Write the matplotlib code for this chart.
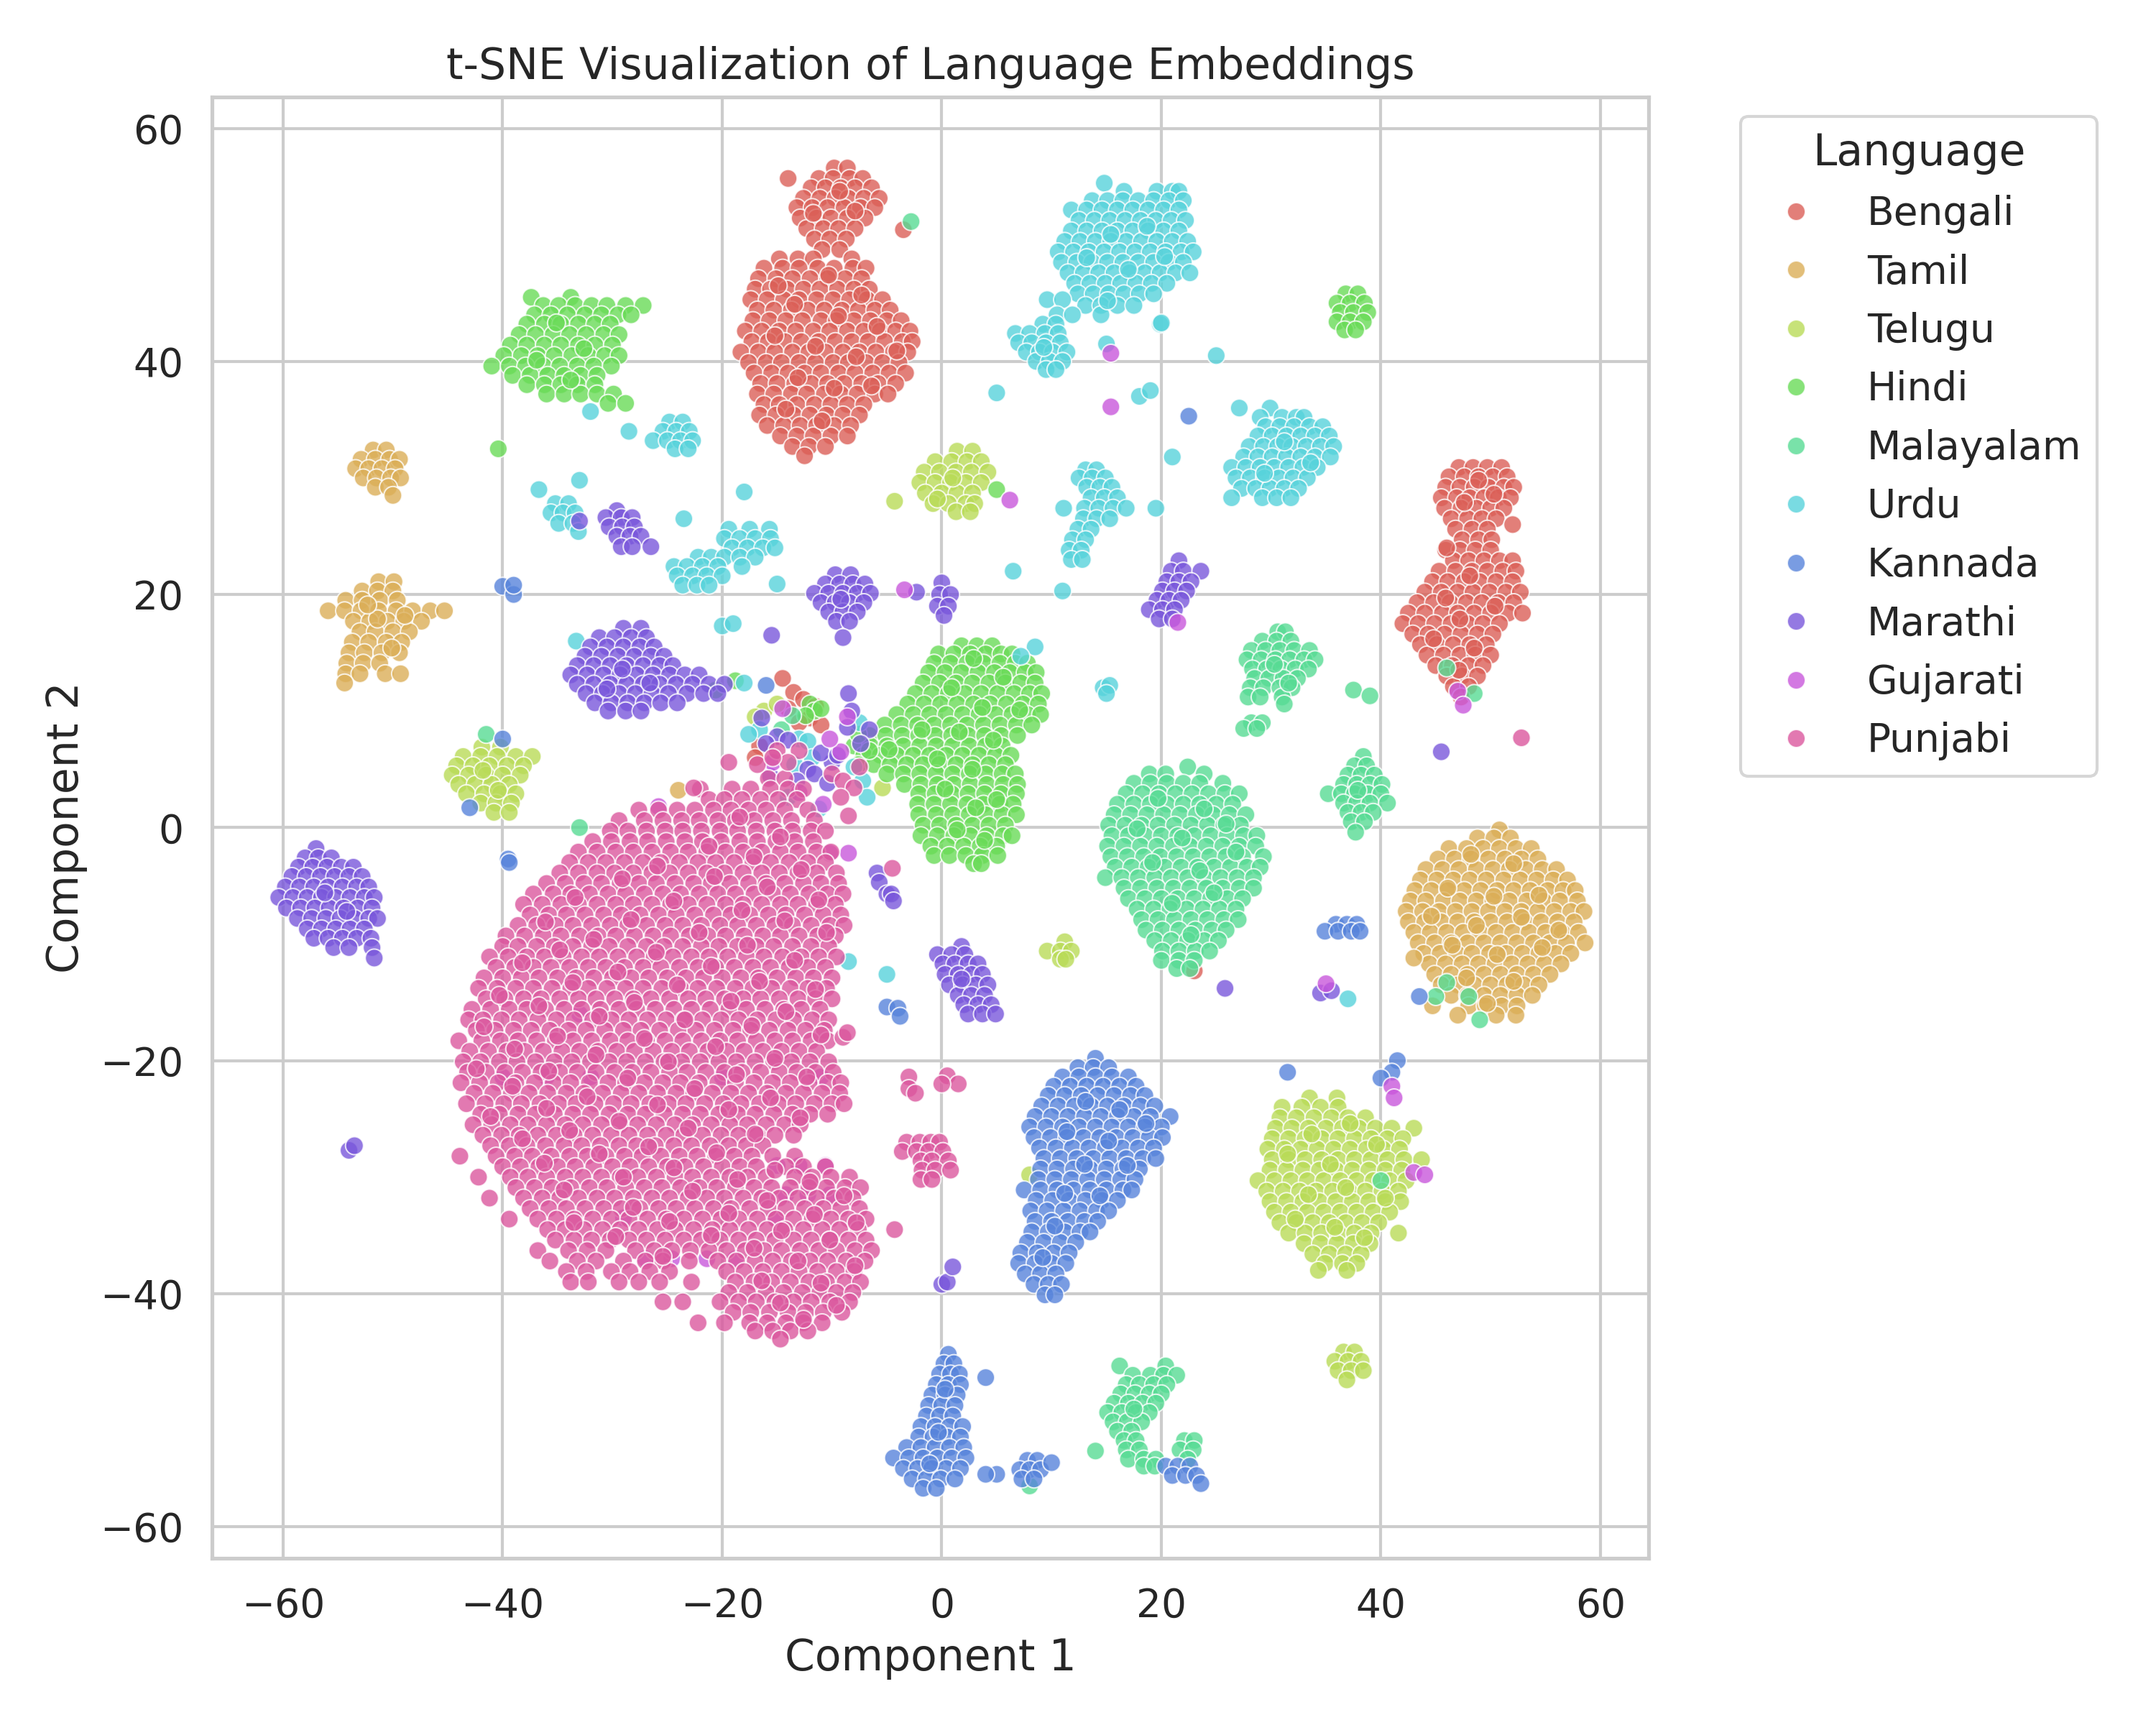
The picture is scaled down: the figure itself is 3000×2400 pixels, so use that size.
import pandas as pd
import seaborn as sns
import matplotlib
matplotlib.use('Agg')
import matplotlib.pyplot as plt

# values: (y, [x, x, ...]) rows per cluster, loose points as (x, y)
bengali_rows = [
    (56.6, [-9.8, -8.6]), (55.7, [-11.2, -9.9, -8.4, -7.2]), (54.9, [-11.9, -10.6, -9.2, -7.9, -6.4]),
    (54.0, [-12.6, -11.1, -9.7, -8.5, -7.1, -5.7]), (53.2, [-13.2, -11.8, -10.4, -8.9, -7.4, -6.1]),
    (52.3, [-12.9, -11.4, -10.1, -8.6, -7.0]), (51.4, [-12.3, -10.8, -9.4, -7.9]), (50.5, [-11.6, -10.2, -8.7]),
    (49.6, [-10.9, -9.3]), (48.8, [-14.8, -13.1, -11.7, -8.2]), (48.0, [-16.2, -14.5, -13.0, -11.3, -9.8, -8.1, -6.9]),
    (47.1, [-16.7, -15.1, -13.6, -12.0, -10.4, -8.8, -7.3]), (46.2, [-17.0, -15.6, -14.1, -12.6, -11.1, -9.5, -8.0, -6.6]),
    (45.3, [-17.4, -15.9, -14.4, -13.0, -11.4, -9.9, -8.4, -6.8, -5.4]),
    (44.4, [-16.8, -15.3, -13.7, -12.2, -10.7, -9.1, -7.6, -6.1, -4.7]),
    (43.5, [-17.2, -15.7, -14.2, -12.7, -11.0, -9.6, -8.0, -6.5, -5.0, -3.7]),
    (42.6, [-17.9, -16.4, -14.8, -13.3, -11.7, -10.2, -8.6, -7.1, -5.6, -4.2, -2.9]),
    (41.7, [-17.3, -15.8, -14.3, -12.8, -11.2, -9.7, -8.2, -6.7, -5.2, -3.6, -2.7]),
    (40.8, [-18.3, -16.7, -15.2, -13.6, -12.1, -10.6, -9.0, -7.5, -6.0, -4.4, -3.1]),
    (39.9, [-17.6, -16.0, -14.6, -13.0, -11.5, -9.9, -8.5, -6.9, -5.4, -3.9]),
    (39.0, [-17.1, -15.5, -14.0, -12.5, -11.0, -9.4, -7.9, -6.3, -4.8, -3.3]),
    (38.1, [-16.5, -15.0, -13.4, -11.9, -10.4, -8.9, -7.3, -5.8, -4.2]),
    (37.2, [-16.8, -15.3, -13.7, -12.3, -10.7, -9.2, -7.7, -6.1, -4.9]),
    (36.3, [-16.2, -14.8, -13.2, -11.6, -10.1, -8.6, -7.1]),
    (35.4, [-16.6, -15.1, -13.5, -12.0, -10.5, -9.0, -7.5]),
    (34.5, [-15.9, -14.4, -12.9, -11.4, -9.8, -8.3]),
    (33.6, [-14.7, -13.2, -11.7, -10.1, -8.6]), (32.7, [-13.6, -12.1, -10.6]), (31.9, [-12.5]),
    (30.9, [47.1, 48.4, 49.7, 51.0]), (30.1, [46.2, 47.6, 48.9, 50.2, 51.5]),
    (29.2, [45.9, 47.2, 48.5, 49.8, 51.2, 52.1]), (28.3, [45.5, 46.9, 48.1, 49.4, 50.7, 51.8]),
    (27.4, [45.8, 47.3, 48.7, 50.0, 51.2]), (26.5, [46.4, 47.9, 49.2, 50.5]),
    (25.6, [46.8, 48.3, 49.7]), (24.7, [47.4, 48.9, 50.1]), (23.8, [45.9, 47.2, 48.6, 50.0]),
    (22.9, [46.6, 48.0, 49.4, 50.8, 52.0]), (22.0, [45.3, 46.8, 48.3, 49.7, 51.1, 52.3]),
    (21.1, [44.7, 46.1, 47.6, 49.0, 50.5, 52.0]), (20.2, [44.0, 45.5, 47.0, 48.4, 49.9, 51.4, 52.7]),
    (19.3, [43.3, 44.8, 46.3, 47.8, 49.2, 50.7, 52.1]), (18.4, [42.5, 44.0, 45.6, 47.0, 48.5, 50.0, 51.6, 52.9]),
    (17.5, [42.0, 43.4, 44.9, 46.4, 47.9, 49.3, 50.8]), (16.6, [42.9, 44.3, 45.8, 47.3, 48.8, 50.2]),
    (15.7, [43.6, 45.1, 46.6, 48.1, 49.6]), (14.8, [44.2, 45.7, 47.2, 48.6, 50.0]),
    (13.9, [45.0, 46.5, 48.0, 49.3]), (13.0, [46.0, 47.4, 48.8]), (12.1, [46.6, 48.0]), (11.2, [47.3]),
]
bengali_extra = [(-14.0, 55.7), (-3.5, 51.3), (46.0, 24.0), (52.0, 26.0), (23.0, -12.3), (-14.5, 12.8), (-13.5, 11.6),
                 (-12.6, 11.0), (-11.5, 10.4), (-14.0, 10.2), (-12.0, 9.4), (-13.0, 9.0), (-11.0, 8.8), (-16.6, 7.0), (-17.0, 6.0),
                 (-9.3, 54.6), (-11.7, 52.7), (-7.9, 52.9), (-14.9, 46.5), (-10.3, 47.4), (-7.3, 45.7), (-13.4, 44.9), (-9.4, 43.9),
                 (-5.9, 43.0), (-15.2, 42.2), (-11.5, 41.3), (-7.8, 40.4), (-4.1, 40.9), (-13.1, 38.6), (-9.8, 37.7), (-6.4, 37.9),
                 (-14.2, 35.9), (-10.9, 34.9), (48.9, 29.8), (47.6, 27.9), (50.3, 28.6), (48.1, 21.6), (45.9, 19.7), (50.4, 19.0),
                 (47.2, 17.9), (44.8, 16.2), (48.5, 15.4), (47.1, 13.5)]

tamil_rows = [
    (32.4, [-51.8, -50.6]), (31.6, [-52.9, -51.6, -50.3, -49.4]), (30.8, [-53.4, -52.2, -51.0, -49.8]),
    (30.0, [-52.7, -51.5, -50.2, -49.3]), (29.2, [-51.6, -50.4]), (28.5, [-50.0]),
    (21.1, [-51.3, -49.9]), (20.3, [-52.8, -51.4, -50.0]), (19.5, [-54.3, -52.8, -51.2, -49.6]),
    (18.6, [-55.9, -54.4, -52.9, -51.3, -49.7, -48.2, -46.6, -45.3]), (17.7, [-53.6, -52.1, -50.5, -49.0, -47.4]),
    (16.8, [-53.0, -51.6, -50.0, -48.5]), (15.9, [-53.7, -52.2, -50.6, -49.2]), (15.0, [-54.0, -52.6, -51.0, -49.4]),
    (14.1, [-54.2, -52.7, -51.2]), (13.2, [-54.3, -53.0, -50.7, -49.3]), (12.4, [-54.4]),
    (-0.2, [50.8]), (-0.9, [48.8, 50.3, 51.8]), (-1.8, [46.2, 47.8, 49.3, 50.8, 52.3, 53.7]),
    (-2.7, [45.2, 46.7, 48.2, 49.8, 51.3, 52.8, 54.3]), (-3.6, [44.1, 45.6, 47.1, 48.7, 50.2, 51.7, 53.2, 54.7, 56.0]),
    (-4.5, [43.6, 45.1, 46.6, 48.1, 49.6, 51.2, 52.7, 54.2, 55.7, 57.0]),
    (-5.4, [43.1, 44.6, 46.1, 47.6, 49.1, 50.6, 52.1, 53.6, 55.2, 56.6, 57.7]),
    (-6.3, [42.7, 44.1, 45.7, 47.2, 48.7, 50.2, 51.7, 53.3, 54.8, 56.3, 57.9]),
    (-7.2, [42.3, 43.8, 45.3, 46.8, 48.3, 49.8, 51.3, 52.8, 54.3, 55.8, 57.3, 58.5]),
    (-8.1, [42.5, 44.0, 45.5, 47.0, 48.5, 50.0, 51.5, 53.1, 54.6, 56.1, 57.6]),
    (-9.0, [43.0, 44.5, 46.0, 47.5, 49.0, 50.5, 52.0, 53.5, 55.0, 56.5, 58.0]),
    (-9.9, [43.4, 44.9, 46.4, 47.9, 49.4, 50.9, 52.4, 53.9, 55.4, 56.9, 58.6]),
    (-10.8, [43.9, 45.4, 46.9, 48.3, 49.9, 51.4, 52.9, 54.4, 55.9, 57.3]),
    (-11.7, [44.4, 45.9, 47.4, 48.9, 50.4, 51.9, 53.4, 54.9, 56.4]),
    (-12.6, [44.9, 46.4, 47.9, 49.4, 50.9, 52.4, 53.9, 55.4]),
    (-13.5, [45.5, 47.0, 48.5, 50.0, 51.5, 53.0, 54.4]), (-14.4, [46.4, 47.9, 49.4, 50.9, 52.4, 53.8]),
    (-15.3, [44.7, 48.0, 49.5, 51.0, 52.4]), (-16.1, [47.0, 50.5, 52.3]),
]
tamil_extra = [(-24.0, 3.2), (43.0, -11.2), (-51.4, 17.9), (-50.1, 15.4), (-52.3, 19.1), (-48.9, 18.2), (48.2, -2.3), (52.1, -3.1),
               (46.1, -5.2), (50.3, -5.9), (54.4, -5.8), (44.6, -7.6), (48.7, -8.4), (52.8, -7.7), (56.2, -8.8), (46.5, -10.1),
               (50.6, -10.9), (54.7, -10.3), (47.8, -12.9), (52.1, -13.2), (49.7, -15.1)]

telugu_rows = [
    (6.9, [-41.9, -40.2]), (6.1, [-43.6, -42.0, -40.5, -38.8, -37.3]), (5.3, [-44.2, -42.7, -41.2, -39.6, -38.1]),
    (4.5, [-44.6, -43.1, -41.5, -40.0, -38.4]), (3.7, [-44.0, -42.5, -41.0, -39.4]), (2.9, [-43.3, -41.7, -40.2, -38.8]),
    (2.1, [-42.0, -40.6, -39.2]), (1.3, [-40.8, -39.4]),
    (32.3, [1.4, 2.8]), (31.4, [-0.6, 0.9, 2.3, 3.6]), (30.5, [-1.6, -0.2, 1.3, 2.7, 4.2]), (29.6, [-2.0, -0.6, 0.8, 2.2, 3.6]),
    (28.7, [-1.5, 0.0, 1.4, 2.8]), (27.8, [-0.8, 0.6, 2.2, 3.0]), (27.1, [1.3, 2.6]),
    (-9.8, [11.2]), (-10.6, [9.6, 10.8, 11.8]), (-11.3, [10.8, 11.3]),
    (-23.2, [33.5, 36.0]), (-24.0, [31.0, 32.8, 34.5, 36.1]), (-24.9, [30.8, 32.3, 33.9, 35.5, 37.0, 38.6]),
    (-25.8, [30.4, 31.9, 33.4, 35.0, 36.5, 38.0, 39.5, 41.0, 43.0]), (-26.7, [30.1, 31.6, 33.1, 34.6, 36.1, 37.6, 39.1, 40.6, 42.0]),
    (-27.6, [29.7, 31.2, 32.7, 34.2, 35.7, 37.2, 38.7, 40.2, 41.7]), (-28.5, [30.1, 31.6, 33.1, 34.6, 36.1, 37.6, 39.1, 40.6, 42.1, 43.7]),
    (-29.4, [29.9, 31.4, 32.9, 34.4, 35.9, 37.4, 38.9, 40.4, 41.9]), (-30.3, [28.8, 30.3, 31.8, 33.3, 34.8, 36.3, 37.8, 39.3, 40.8, 42.3]),
    (-31.2, [29.6, 31.1, 32.6, 34.1, 35.6, 37.1, 38.6, 40.1, 41.6]), (-32.1, [29.9, 31.4, 32.9, 34.4, 35.9, 37.4, 38.9, 40.4, 41.8]),
    (-33.0, [30.3, 31.8, 33.3, 34.8, 36.3, 37.8, 39.3, 40.8]), (-33.9, [30.8, 32.3, 33.8, 35.3, 36.8, 38.3, 39.8]),
    (-34.8, [31.6, 33.1, 34.6, 36.1, 37.6, 39.1, 41.6]), (-35.7, [33.0, 34.5, 36.0, 37.5, 39.0]),
    (-36.6, [33.8, 35.3, 36.8, 38.2]), (-37.4, [34.9, 36.5, 37.8]), (-38.0, [34.3, 36.9]),
    (-45.0, [36.6, 37.6]), (-45.8, [35.8, 37.0, 38.2]), (-46.6, [36.1, 37.3, 38.4]), (-47.4, [36.9]),
]
telugu_extra = [(-4.3, 28.0), (8.0, -29.8), (-16.2, 10.0), (-15.0, 10.6), (-17.0, 9.5), (-5.4, 3.4), (33.7, -26.3), (37.2, -25.4),
                (31.5, -28.0), (35.4, -28.9), (39.6, -27.2), (33.4, -31.5), (36.8, -30.9), (40.4, -31.8), (32.2, -33.6), (35.8, -34.3),
                (38.5, -35.2), (-41.8, 4.9), (-40.4, 3.2), (1.0, 30.0), (-0.4, 28.2)]

hindi_rows = [
    (45.5, [-37.4, -33.8]), (44.8, [-36.3, -34.9, -33.4, -31.9, -30.5, -28.8, -27.2]), (44.0, [-37.1, -35.6, -34.1, -32.5, -31.0, -29.5, -28.3]),
    (43.2, [-37.8, -36.2, -34.7, -33.1, -31.6, -30.2]), (42.3, [-38.5, -37.0, -35.4, -33.9, -32.4, -30.8, -29.4]),
    (41.4, [-39.3, -37.8, -36.2, -34.7, -33.1, -31.6, -30.0]), (40.5, [-39.9, -38.3, -36.8, -35.3, -33.7, -32.2, -30.7, -29.4]),
    (39.6, [-41.0, -39.4, -37.9, -36.3, -34.8, -33.2, -31.7, -30.1]), (38.8, [-39.1, -37.5, -35.9, -34.4, -32.9, -31.4]),
    (38.0, [-37.8, -36.2, -34.7, -33.2, -31.6]), (37.2, [-36.0, -34.4, -32.9, -31.4, -29.9]), (36.4, [-30.4, -28.8]),
    (45.8, [36.8, 37.9]), (45.0, [36.0, 37.2, 38.5]), (44.2, [36.3, 37.5, 38.8]), (43.4, [36.0, 37.2, 38.4]), (42.7, [36.7, 37.7]),
    (15.6, [1.8, 3.2, 4.6]), (14.9, [-0.3, 1.1, 2.6, 4.0, 5.4, 6.4]), (14.1, [-0.7, 0.8, 2.3, 3.8, 5.3, 6.7, 7.8]),
    (13.3, [-1.2, 0.3, 1.8, 3.3, 4.8, 6.2, 7.6, 8.6]), (12.4, [-1.7, -0.2, 1.3, 2.8, 4.3, 5.8, 7.2, 8.5]),
    (11.5, [-2.4, -0.9, 0.6, 2.1, 3.6, 5.1, 6.6, 8.0, 9.1]), (10.6, [-3.1, -1.6, -0.1, 1.4, 2.9, 4.4, 5.9, 7.4, 8.8]),
    (9.7, [-4.1, -2.6, -1.1, 0.4, 1.9, 3.4, 4.9, 6.4, 7.8, 9.0]), (8.8, [-5.2, -3.7, -2.2, -0.7, 0.8, 2.3, 3.8, 5.3, 6.8, 8.2]),
    (7.9, [-6.6, -5.1, -3.6, -2.1, -0.6, 0.9, 2.4, 3.9, 5.4, 6.9]), (7.0, [-8.0, -6.5, -5.0, -3.5, -2.0, -0.5, 1.0, 2.5, 4.0, 5.5]),
    (6.2, [-7.1, -5.6, -4.1, -2.6, -1.1, 0.4, 1.9, 3.4, 4.9, 6.3]), (5.4, [-7.6, -6.2, -4.7, -3.2, -1.7, -0.2, 1.3, 2.8, 4.3, 5.8]),
    (4.6, [-5.0, -3.5, -2.0, -0.5, 1.0, 2.5, 4.0, 5.5, 6.7]), (3.7, [-3.4, -1.9, -0.4, 1.1, 2.6, 4.1, 5.6, 6.9]),
    (2.9, [-2.1, -0.6, 0.9, 2.4, 3.9, 5.4, 6.8]), (2.0, [-2.2, -0.7, 0.8, 2.3, 3.8, 5.3, 6.5]),
    (1.1, [-2.1, -0.5, 1.0, 2.5, 4.0, 5.5, 6.8]), (0.2, [-1.7, -0.2, 1.3, 2.8, 4.3, 5.8]),
    (-0.7, [-1.9, -0.4, 1.1, 2.6, 4.1, 5.6, 6.4]), (-1.6, [-1.0, 0.5, 2.0, 3.5, 5.0]),
    (-2.4, [-0.7, 0.7, 2.2, 3.7, 5.1]), (-3.1, [2.9, 3.6]),
]
hindi_extra = [(-40.4, 32.5), (5.0, 29.0), (-20.6, 11.8), (-18.8, 12.6), (-12.0, 10.6), (-11.6, 10.0), (-11.0, 10.2),
               (-12.4, 9.6), (-7.6, 8.0), (-6.6, 6.6), (-35.1, 43.3), (-32.6, 41.1), (-36.9, 40.1), (-33.8, 38.4), (2.9, 14.5),
               (5.6, 12.9), (0.9, 12.0), (3.7, 10.3), (7.1, 10.1), (-1.8, 8.4), (1.6, 8.2), (4.7, 7.5), (-4.8, 6.7), (-0.4, 5.9),
               (2.8, 5.0), (0.3, 3.3), (3.1, 1.7), (5.0, 2.4), (1.4, -0.2), (3.9, -1.1)]

malayalam_rows = [
    (5.2, [22.4]), (4.6, [18.9, 20.4, 23.9]), (3.8, [17.5, 19.0, 20.5, 22.0, 23.5, 25.6]),
    (2.9, [16.8, 18.3, 19.8, 21.3, 22.8, 24.3, 25.8, 27.1]), (2.0, [16.0, 17.5, 19.0, 20.5, 22.0, 23.5, 25.0, 26.5]),
    (1.1, [15.7, 17.2, 18.7, 20.2, 21.7, 23.2, 24.7, 26.2, 27.7]), (0.2, [15.2, 16.7, 18.2, 19.7, 21.2, 22.7, 24.2, 25.7, 27.2]),
    (-0.7, [15.5, 17.0, 18.5, 20.0, 21.5, 23.0, 24.5, 26.0, 27.5, 28.7]), (-1.6, [15.1, 16.6, 18.1, 19.6, 21.1, 22.6, 24.1, 25.6, 27.1, 28.6]),
    (-2.5, [15.4, 16.9, 18.4, 19.9, 21.4, 22.9, 24.4, 25.9, 27.4, 29.3]), (-3.4, [15.8, 17.3, 18.8, 20.3, 21.8, 23.3, 24.8, 26.3, 27.8, 29.0]),
    (-4.3, [14.9, 16.4, 17.9, 19.4, 20.9, 22.4, 23.9, 25.4, 26.9, 28.4]), (-5.2, [16.6, 18.1, 19.6, 21.1, 22.6, 24.1, 25.6, 27.1, 28.4]),
    (-6.1, [17.0, 18.5, 20.0, 21.5, 23.0, 24.5, 26.0, 27.4]), (-7.0, [17.8, 19.3, 20.8, 22.3, 23.8, 25.3, 26.8]),
    (-7.9, [18.2, 19.7, 21.2, 22.7, 24.2, 25.7, 27.0]), (-8.8, [18.6, 20.1, 21.6, 23.1, 24.6, 25.9]),
    (-9.7, [19.4, 20.9, 22.4, 23.9, 25.2]), (-10.6, [20.1, 21.6, 23.1, 24.4]), (-11.4, [20.0, 21.6, 23.0]), (-12.1, [21.4, 22.6]),
    (16.8, [30.6, 31.3]), (16.0, [29.2, 30.5, 31.8]), (15.2, [28.2, 29.5, 30.8, 32.1, 33.5]), (14.4, [27.8, 29.1, 30.4, 31.7, 33.0, 34.0]),
    (13.6, [28.3, 29.6, 30.9, 32.2, 33.4]), (12.8, [28.5, 29.8, 31.1, 32.4]), (12.0, [28.1, 29.3, 30.8, 31.9]),
    (11.2, [27.9, 29.0, 31.0]), (10.6, [31.2]), (9.0, [28.2, 29.2]), (8.5, [27.5, 28.7]),
    (6.1, [38.4]), (5.3, [37.6, 38.7]), (4.5, [37.0, 38.2, 39.4]), (3.7, [36.6, 37.8, 39.0, 40.1]), (2.9, [35.2, 36.4, 37.6, 38.8, 40.0]),
    (2.1, [36.6, 37.8, 39.0, 40.6]), (1.3, [37.0, 38.2, 39.3]), (0.5, [37.3, 38.5]), (-0.4, [37.7]),
    (-46.2, [16.2, 20.4]), (-47.0, [17.4, 19.0, 20.2, 21.4]), (-47.8, [16.8, 18.0, 19.3, 20.5]), (-48.6, [16.3, 17.6, 18.9, 20.0]),
    (-49.4, [15.7, 17.0, 18.3, 19.5]), (-50.2, [15.1, 16.4, 17.7, 18.9]), (-51.0, [15.6, 16.9, 18.2]), (-51.8, [16.0, 17.3]),
    (-52.6, [16.6, 17.7, 22.1, 23.0]), (-53.4, [16.8, 18.0, 21.7, 22.9]), (-54.2, [17.0, 18.4, 19.5, 22.4]), (-54.8, [18.4, 19.4]),
]
malayalam_extra = [(-2.8, 52.0), (-41.5, 8.0), (-33.0, 0.0), (14.0, -53.5), (46.0, -13.3), (45.0, -14.5), (48.0, -14.5), (49.0, -16.5),
                   (40.0, -30.3), (46.0, 13.7), (48.5, 11.5), (8.0, -56.5), (37.5, 11.8), (39.0, 11.3), (-14.6, 8.4), (-13.6, 9.6),
                   (19.7, 2.5), (23.9, 1.6), (17.8, -0.1), (21.9, -0.9), (25.9, 0.3), (19.2, -3.0), (23.5, -3.7), (26.8, -2.1),
                   (21.0, -6.5), (24.8, -5.6), (22.7, -9.2), (30.3, 14.0), (31.6, 12.4), (37.9, 3.2), (17.5, -49.9)]

urdu_rows = [
    (55.3, [14.8]), (54.6, [16.6, 19.6, 21.0, 21.6]), (53.8, [13.7, 15.1, 16.5, 17.9, 19.3, 20.7, 22.0]),
    (53.0, [11.8, 13.2, 14.6, 16.0, 17.4, 18.8, 20.2, 21.6]), (52.1, [12.5, 13.9, 15.3, 16.7, 18.1, 19.5, 20.9, 22.2]),
    (51.2, [11.8, 13.2, 14.6, 16.0, 17.4, 18.8, 20.2, 21.6]), (50.3, [11.2, 12.6, 14.0, 15.4, 16.8, 18.2, 19.6, 21.0, 22.4]),
    (49.4, [10.6, 12.0, 13.4, 14.8, 16.2, 17.6, 19.0, 20.4, 21.8, 22.9]), (48.5, [10.9, 12.3, 13.7, 15.1, 16.5, 17.9, 19.3, 20.7, 22.0]),
    (47.6, [11.5, 12.9, 14.3, 15.7, 17.1, 18.5, 19.9, 21.3, 22.6]), (46.7, [12.1, 13.5, 14.9, 16.3, 17.7, 19.1, 20.5]),
    (45.8, [12.4, 13.8, 15.2, 16.6, 18.0, 19.3]), (45.3, [9.6, 11.0]), (44.8, [13.1, 14.5, 16.0, 17.5]),
    (44.0, [10.5, 11.9, 14.5]), (43.2, [9.2, 10.4, 19.9]), (42.4, [6.7, 8.0, 9.4, 10.6]), (41.6, [7.0, 8.2, 9.5, 10.8]),
    (40.8, [7.7, 8.9, 10.1, 11.4]), (40.0, [8.6, 9.8, 11.0]), (39.3, [9.5, 10.4]),
    (36.0, [27.1, 29.9]), (35.2, [29.0, 31.0, 32.3, 33.0]), (34.4, [29.5, 30.8, 32.1, 33.5, 34.7]),
    (33.6, [28.8, 30.1, 31.4, 32.7, 34.0, 35.3]), (32.7, [28.0, 29.3, 30.6, 31.9, 33.2, 34.5, 35.7]),
    (31.8, [27.5, 28.8, 30.1, 31.4, 32.7, 34.0, 35.4]), (30.9, [26.4, 27.7, 29.0, 30.3, 31.6, 32.9, 34.2]),
    (30.0, [26.8, 28.1, 29.4, 30.7, 32.0, 33.3]), (29.1, [27.3, 28.6, 29.9, 31.2, 32.5]), (28.3, [26.4, 29.2, 30.5, 31.8]),
    (34.8, [-24.8, -23.6]), (34.0, [-25.4, -24.2, -23.0]), (33.2, [-26.3, -25.0, -23.8, -22.7]), (32.5, [-24.3, -23.1]),
    (29.0, [-36.7]), (27.8, [-35.2, -34.0]), (27.0, [-35.6, -34.5, -33.4]), (26.1, [-34.9, -33.6]), (25.4, [-33.1]),
    (25.6, [-19.4, -17.5, -15.7]), (24.8, [-19.8, -18.4, -17.0, -15.6]), (24.0, [-19.1, -17.7, -16.3, -15.2]),
    (23.2, [-22.2, -21.0, -19.8, -18.4, -17.0]), (22.4, [-24.4, -23.2, -21.8, -20.4, -18.2]),
    (21.6, [-24.1, -22.7, -21.4, -20.0]), (20.8, [-23.6, -22.3, -21.2]),
    (30.7, [13.1, 14.1]), (30.0, [12.5, 13.7, 14.9]), (29.2, [13.2, 14.4, 15.5]), (28.3, [13.6, 14.8, 16.0]),
    (27.4, [11.1, 13.0, 14.3, 15.6, 16.8, 19.5]), (26.5, [12.9, 14.1, 15.3]), (25.6, [12.4, 13.6]),
    (24.7, [11.9, 13.1]), (23.8, [11.6, 12.7]), (23.0, [11.8, 12.8]),
]
urdu_extra = [(5.0, 37.3), (-33.0, 29.8), (-28.5, 34.0), (-32.0, 35.7), (-18.0, 28.8), (-23.5, 26.5), (-15.0, 20.9), (-33.3, 16.0),
              (-20.0, 17.3), (-19.0, 17.5), (6.5, 22.0), (11.0, 20.3), (15.0, 41.5), (18.0, 37.0), (19.0, 37.5), (21.0, 31.8), (25.0, 40.5),
              (8.5, 15.5), (7.2, 14.7), (-8.5, -11.5), (-5.0, -12.6), (37.0, -14.7), (14.7, 12.0), (15.3, 12.2), (15.0, 11.5), (20.0, 43.3),
              (-16.6, 8.4), (-17.6, 8.0), (-13.0, 7.6), (-12.2, 7.4), (-11.8, 6.0), (-13.4, 5.4), (-8.0, 5.2), (-7.2, 4.0), (-6.8, 2.6),
              (-11.2, 1.6), (-7.5, 9.0), (-18.0, 12.4), (-14.0, 2.6), (15.4, 50.9), (18.7, 51.6), (13.2, 48.9), (17.0, 47.9),
              (20.3, 49.0), (15.1, 45.2), (9.3, 41.2), (31.2, 33.1), (29.4, 30.4), (33.6, 31.3)]

kannada_rows = [
    (-19.8, [14.0]), (-20.6, [12.4, 13.8, 15.2]), (-21.4, [11.0, 12.5, 14.0, 15.5, 17.0]),
    (-22.2, [10.2, 11.7, 13.2, 14.7, 16.2, 17.7]), (-23.0, [9.7, 11.2, 12.7, 14.2, 15.7, 17.2, 18.5]),
    (-23.9, [9.1, 10.6, 12.1, 13.6, 15.1, 16.6, 18.1, 19.4]), (-24.8, [8.5, 10.0, 11.5, 13.0, 14.5, 16.0, 17.5, 19.0, 20.8]),
    (-25.7, [8.0, 9.5, 11.0, 12.5, 14.0, 15.5, 17.0, 18.5, 20.0]), (-26.6, [8.4, 9.9, 11.4, 12.9, 14.4, 15.9, 17.4, 18.9, 20.1]),
    (-27.5, [8.9, 10.4, 11.9, 13.4, 14.9, 16.4, 17.9, 19.3]), (-28.4, [9.3, 10.8, 12.3, 13.8, 15.3, 16.8, 18.3, 19.5]),
    (-29.3, [9.0, 10.5, 12.0, 13.5, 15.0, 16.5, 18.0]), (-30.2, [8.8, 10.3, 11.8, 13.3, 14.8, 16.3, 17.6]),
    (-31.1, [7.5, 9.0, 10.5, 12.0, 13.5, 15.0, 16.5, 17.3]), (-32.0, [8.6, 10.1, 11.6, 13.1, 14.6, 16.0]),
    (-32.9, [8.1, 9.6, 11.1, 12.6, 14.1, 15.2]), (-33.8, [8.5, 10.0, 11.5, 13.0, 14.2]), (-34.7, [8.2, 9.7, 11.2, 12.6, 13.5]),
    (-35.6, [7.8, 9.3, 10.8, 12.2]), (-36.5, [7.2, 8.7, 10.2, 11.6]), (-37.4, [7.0, 8.5, 10.0, 11.3]),
    (-38.3, [7.6, 9.0, 10.4]), (-39.2, [8.4, 9.7, 10.9]), (-40.1, [9.4, 10.3]),
    (-45.2, [0.6]), (-46.0, [0.2, 1.1]), (-46.9, [-0.2, 0.8, 1.6]), (-47.8, [-0.5, 0.6, 1.7]), (-48.7, [-0.9, 0.3, 1.4]),
    (-49.6, [-1.2, 0.0, 1.2]), (-50.5, [-1.4, -0.2, 1.0]), (-51.4, [-1.9, -0.6, 0.7, 1.9]), (-52.3, [-2.1, -0.8, 0.5, 1.7]),
    (-53.2, [-3.2, -1.9, -0.6, 0.7, 2.0]), (-54.1, [-4.4, -3.0, -1.7, -0.4, 0.9, 2.2]), (-55.0, [-3.5, -2.2, -0.9, 0.4, 1.7]),
    (-55.9, [-2.7, -1.4, -0.1, 1.2]), (-56.7, [-1.7, -0.5]),
    (-8.3, [35.9, 36.9, 37.8]), (-8.9, [34.9, 36.1, 37.3, 38.1]), (-54.3, [7.8, 8.7]), (-55.1, [7.1, 8.0, 9.0]), (-55.9, [7.3, 8.4]),
    (-54.8, [20.4, 21.5, 22.6]), (-55.6, [21.0, 22.2, 23.2]), (-56.3, [23.6]),
]
kannada_extra = [(-40.0, 20.7), (-39.0, 20.0), (-39.0, 20.8), (-40.0, 7.6), (-43.0, 1.7), (-39.5, -2.7), (-39.4, -3.0), (22.5, 35.3),
                 (43.5, -14.5), (41.5, -20.0), (41.0, -21.0), (40.0, -21.5), (31.5, -21.0), (4.0, -47.2), (5.0, -55.5), (4.0, -55.5),
                 (10.0, -54.5), (-16.0, 12.2), (-5.0, -15.4), (-4.0, -15.5), (-3.8, -16.2), (13.1, -23.5), (16.2, -24.2), (11.4, -26.1),
                 (15.2, -26.9), (18.6, -25.4), (13.0, -28.9), (16.9, -29.0), (11.2, -31.4), (14.4, -31.6), (10.3, -34.2), (9.2, -36.9),
                 (-0.3, -51.9), (-1.1, -54.6), (0.3, -48.2)]

marathi_rows = [
    (-1.8, [-57.0]), (-2.6, [-58.0, -56.8, -55.6]), (-3.4, [-58.6, -57.3, -56.0, -54.7, -53.6]),
    (-4.2, [-59.2, -57.9, -56.6, -55.3, -54.0, -52.8]), (-5.1, [-59.8, -58.5, -57.2, -55.9, -54.6, -53.3, -52.2]),
    (-6.0, [-60.4, -59.1, -57.8, -56.5, -55.2, -53.9, -52.6, -51.7]), (-6.9, [-59.7, -58.4, -57.1, -55.8, -54.5, -53.2, -51.9]),
    (-7.8, [-58.7, -57.4, -56.1, -54.8, -53.5, -52.2, -51.4]), (-8.7, [-57.8, -56.5, -55.2, -53.9, -52.6]),
    (-9.5, [-57.2, -55.9, -54.6, -53.3, -52.0]), (-10.3, [-55.4, -54.0, -51.9]), (-11.2, [-51.7]),
    (17.1, [-29.0, -27.4]), (16.3, [-31.2, -29.8, -28.3, -26.9]), (15.5, [-32.0, -30.5, -29.0, -27.5, -26.2]),
    (14.7, [-32.5, -31.0, -29.5, -28.0, -26.5, -25.3]), (13.9, [-33.2, -31.7, -30.2, -28.7, -27.2, -25.7, -24.5]),
    (13.1, [-33.8, -32.3, -30.8, -29.3, -27.8, -26.3, -24.8, -23.4, -22.1]), (12.3, [-33.2, -31.7, -30.2, -28.7, -27.2, -25.7, -24.2, -22.7, -21.2, -19.8]),
    (11.5, [-32.4, -30.9, -29.4, -27.9, -26.4, -24.9, -23.2, -21.7, -20.4]), (10.7, [-31.6, -30.1, -28.6, -27.1, -25.6, -24.1]),
    (10.0, [-30.4, -28.8, -27.4]),
    (27.2, [-29.6]), (26.6, [-30.6, -29.2, -28.2]), (25.8, [-30.3, -29.1, -28.0]), (25.0, [-29.6, -28.4, -27.4]), (24.1, [-29.2, -28.2, -26.5]),
    (21.7, [-9.7, -8.3]), (20.9, [-10.6, -9.3, -8.1, -7.0]), (20.1, [-11.6, -10.3, -9.0, -7.7, -6.5]), (19.3, [-11.0, -9.7, -8.4, -7.1]),
    (18.5, [-10.3, -9.0, -7.7]), (17.7, [-9.6, -8.4]), (16.3, [-9.0]),
    (-10.2, [1.8]), (-10.9, [-0.4, 0.9, 2.1]), (-11.7, [0.1, 1.2, 2.4, 3.3]), (-12.6, [0.3, 1.5, 2.7, 3.7]),
    (-13.5, [0.7, 1.9, 3.1, 4.2]), (-14.4, [1.5, 2.7, 3.9]), (-15.2, [2.0, 3.3, 4.5]), (-16.0, [2.4, 3.7, 4.9]),
    (22.9, [21.6]), (22.0, [20.9, 22.0, 23.6]), (21.1, [20.5, 21.6, 22.7]), (20.3, [20.1, 21.2, 22.3]), (19.5, [19.6, 20.7, 21.8]),
    (18.7, [18.9, 20.1, 21.2]), (17.9, [19.8, 21.0]),
    (-3.9, [-5.9]), (-4.7, [-5.7]), (-5.7, [-5.0, -4.6]), (-6.3, [-4.4]), (21.0, [0.0]), (20.0, [-0.2, 0.8]), (19.0, [-0.4, 0.6]), (18.2, [0.2]),
]
marathi_extra = [(-54.0, -27.7), (-53.5, -27.3), (-33.0, 26.3), (-2.3, 20.2), (0.0, -39.2), (0.5, -39.0), (1.0, -37.7), (25.8, -13.8),
                 (34.5, -14.2), (35.5, -14.0), (45.5, 6.5), (-15.5, 16.5), (-16.4, 9.4), (-15.0, 7.8), (-16.0, 7.2), (-14.0, 7.5),
                 (-12.2, 5.0), (-13.2, 4.0), (-11.6, 4.6), (-10.0, 5.6), (-8.5, 11.5), (-8.2, 10.0), (-8.6, 8.6), (-6.6, 8.4), (-7.4, 7.2),
                 (-11.0, 6.4), (-9.5, 6.2), (-10.4, 3.8), (-15.6, 4.4), (-56.2, -5.6), (-54.2, -7.2), (-29.1, 13.6), (-26.6, 12.4),
                 (-30.5, 11.9), (-9.2, 19.6), (1.8, -13.0)]

gujarati_rows = [
    (-21.4, [-40.0, -36.0, -32.0, -20.0, -11.0]), (-29.0, [-15.0, -13.0, -10.6]), (-31.5, [-14.2, -12.2, -10.2]),
    (-33.5, [-29.0, -15.2]), (-37.0, [-27.0, -24.6, -21.4, -18.8]),
]
gujarati_extra = [(15.4, 36.1), (15.4, 40.7), (6.2, 28.1), (21.5, 17.6), (47.0, 11.7), (47.5, 10.5), (35.0, -13.4), (41.0, -22.2), (41.2, -23.2),
                  (43.0, -29.6), (44.0, -29.8), (-14.5, 10.2), (-8.6, 9.5), (-9.2, 6.5), (-15.4, 5.6), (-13.0, 3.0), (-10.8, 2.0), (-10.2, 7.6),
                  (-25.8, 1.8), (-10.2, -2.2), (-3.4, 20.4), (-33.0, -16.0), (-8.5, -2.2)]

punjabi_rows = [
    (4.2, [-15.8, -14.3]), (3.3, [-22.0, -19.1, -17.4, -15.6, -14.0, -12.6]), (2.4, [-21.2, -19.8, -18.2, -16.5, -14.9, -13.2]),
    (1.5, [-27.6, -25.8, -24.1, -22.5, -20.8, -19.2, -17.6, -16.0, -14.3, -12.2]),
    (0.6, [-29.4, -27.1, -25.4, -23.7, -22.1, -20.4, -18.8, -17.1, -15.4, -13.7, -11.6]),
    (-0.3, [-30.2, -28.6, -26.9, -25.2, -23.6, -21.9, -20.2, -18.6, -16.9, -15.2, -13.6, -11.9, -10.6]),
    (-1.2, [-31.8, -30.1, -28.4, -26.8, -25.1, -23.4, -21.8, -20.1, -18.4, -16.8, -15.1, -13.4, -11.7]),
    (-2.1, [-33.1, -31.4, -29.7, -28.1, -26.4, -24.7, -23.1, -21.4, -19.7, -18.1, -16.4, -14.7, -13.1, -11.4, -10.1]),
    (-3.0, [-33.9, -32.2, -30.6, -28.9, -27.2, -25.6, -23.9, -22.2, -20.6, -18.9, -17.2, -15.6, -13.9, -12.2, -10.6]),
    (-3.9, [-34.8, -33.1, -31.4, -29.8, -28.1, -26.4, -24.8, -23.1, -21.4, -19.8, -18.1, -16.4, -14.8, -13.1, -11.4, -9.6]),
    (-4.8, [-36.0, -34.3, -32.6, -31.0, -29.3, -27.6, -26.0, -24.3, -22.6, -21.0, -19.3, -17.6, -16.0, -14.3, -12.6, -11.0, -9.4]),
    (-5.7, [-37.2, -35.4, -33.8, -32.1, -30.4, -28.8, -27.1, -25.4, -23.8, -22.1, -20.4, -18.8, -17.1, -15.4, -13.8, -12.1, -10.4, -9.0]),
    (-6.6, [-38.1, -36.4, -34.7, -33.1, -31.4, -29.7, -28.1, -26.4, -24.7, -23.1, -21.4, -19.7, -18.1, -16.4, -14.7, -13.1, -11.4, -9.7]),
    (-7.5, [-37.5, -35.8, -34.2, -32.5, -30.8, -29.2, -27.5, -25.8, -24.2, -22.5, -20.8, -19.2, -17.5, -15.8, -14.2, -12.5, -10.8, -9.2]),
    (-8.4, [-38.6, -36.9, -35.2, -33.6, -31.9, -30.2, -28.6, -26.9, -25.2, -23.6, -21.9, -20.2, -18.6, -16.9, -15.2, -13.6, -11.9, -10.2, -8.9]),
    (-9.3, [-39.7, -38.0, -36.3, -34.7, -33.0, -31.3, -29.7, -28.0, -26.3, -24.7, -23.0, -21.3, -19.7, -18.0, -16.3, -14.7, -13.0, -11.3, -9.7]),
    (-10.2, [-40.0, -38.6, -36.9, -35.3, -33.6, -31.9, -30.3, -28.6, -26.9, -25.3, -23.6, -21.9, -20.3, -18.6, -16.9, -15.3, -13.6, -11.9, -10.3]),
    (-11.1, [-41.2, -39.5, -37.8, -36.2, -34.5, -32.8, -31.2, -29.5, -27.8, -26.2, -24.5, -22.8, -21.2, -19.5, -17.8, -16.2, -14.5, -12.8, -11.2, -9.6]),
    (-12.0, [-40.6, -38.9, -37.2, -35.6, -33.9, -32.2, -30.6, -28.9, -27.2, -25.6, -23.9, -22.2, -20.6, -18.9, -17.2, -15.6, -13.9, -12.2, -10.6]),
    (-12.9, [-41.7, -40.0, -38.3, -36.7, -35.0, -33.3, -31.7, -30.0, -28.3, -26.7, -25.0, -23.3, -21.7, -20.0, -18.3, -16.7, -15.0, -13.3, -11.7, -10.0]),
    (-13.8, [-42.2, -40.5, -38.8, -37.2, -35.5, -33.8, -32.2, -30.5, -28.8, -27.2, -25.5, -23.8, -22.2, -20.5, -18.8, -17.2, -15.5, -13.8, -12.2, -10.5]),
    (-14.7, [-41.5, -39.8, -38.1, -36.5, -34.8, -33.1, -31.5, -29.8, -28.1, -26.5, -24.8, -23.1, -21.5, -19.8, -18.1, -16.5, -14.8, -13.1, -11.5, -10.0]),
    (-15.6, [-42.8, -41.1, -39.4, -37.8, -36.1, -34.4, -32.8, -31.1, -29.4, -27.8, -26.1, -24.4, -22.8, -21.1, -19.4, -17.8, -16.1, -14.4, -12.8, -11.1]),
    (-16.5, [-43.1, -41.8, -40.1, -38.5, -36.8, -35.1, -33.5, -31.8, -30.1, -28.5, -26.8, -25.1, -23.5, -21.8, -20.1, -18.5, -16.8, -15.1, -13.5, -11.8, -10.3]),
    (-17.4, [-42.4, -40.7, -39.0, -37.4, -35.7, -34.0, -32.4, -30.7, -29.0, -27.4, -25.7, -24.0, -22.4, -20.7, -19.0, -17.4, -15.7, -14.0, -12.4, -10.7]),
    (-18.3, [-44.0, -41.9, -40.2, -38.6, -36.9, -35.2, -33.6, -31.9, -30.2, -28.6, -26.9, -25.2, -23.6, -21.9, -20.2, -18.6, -16.9, -15.2, -13.6, -11.9, -10.4]),
    (-19.2, [-43.0, -41.3, -39.6, -38.0, -36.3, -34.6, -33.0, -31.3, -29.6, -28.0, -26.3, -24.6, -23.0, -21.3, -19.6, -18.0, -16.3, -14.6, -13.0, -11.4]),
    (-20.1, [-43.6, -42.0, -40.3, -38.7, -37.0, -35.3, -33.7, -32.0, -30.3, -28.7, -27.0, -25.3, -23.7, -22.0, -20.3, -18.7, -17.0, -15.3, -13.7, -12.0, -10.3]),
    (-21.0, [-43.2, -41.5, -39.8, -38.2, -36.5, -34.8, -33.2, -31.5, -29.8, -28.2, -26.5, -24.8, -23.2, -21.5, -19.8, -18.2, -16.5, -14.8, -13.2, -11.5, -9.9]),
    (-21.9, [-43.8, -42.1, -40.4, -38.8, -37.1, -35.4, -33.8, -32.1, -30.4, -28.8, -27.1, -25.4, -23.8, -22.1, -20.4, -18.8, -17.1, -15.4, -13.8, -12.1, -10.4, -9.2]),
    (-22.8, [-42.6, -40.9, -39.2, -37.6, -35.9, -34.2, -32.6, -30.9, -29.2, -27.6, -25.9, -24.2, -22.6, -20.9, -19.2, -17.6, -15.9, -14.2, -12.6, -10.9, -9.3]),
    (-23.7, [-43.3, -41.6, -39.9, -38.3, -36.6, -34.9, -33.3, -31.6, -29.9, -28.3, -26.6, -24.9, -23.3, -21.6, -19.9, -18.3, -16.6, -14.9, -13.3, -11.6, -10.0, -8.9]),
    (-24.6, [-42.0, -40.3, -38.6, -37.0, -35.3, -33.6, -32.0, -30.3, -28.6, -27.0, -25.3, -23.6, -22.0, -20.3, -18.6, -17.0, -15.3, -13.6, -12.0, -10.4]),
    (-25.5, [-42.7, -41.0, -39.3, -37.7, -36.0, -34.3, -32.7, -31.0, -29.3, -27.7, -26.0, -24.3, -22.7, -21.0, -19.3, -17.7, -16.0, -14.3, -12.9]),
    (-26.4, [-41.8, -40.1, -38.5, -36.8, -35.1, -33.5, -31.8, -30.1, -28.5, -26.8, -25.1, -23.5, -21.8, -20.1, -18.5, -16.8, -15.2, -13.5]),
    (-27.3, [-41.1, -39.4, -37.8, -36.1, -34.4, -32.8, -31.1, -29.4, -27.8, -26.1, -24.4, -22.8, -21.1, -19.4, -17.8, -16.3]),
    (-28.2, [-43.9, -40.6, -38.9, -37.3, -35.6, -33.9, -32.3, -30.6, -28.9, -27.3, -25.6, -23.9, -22.3, -20.6, -18.9, -17.3, -15.4, -13.4]),
    (-29.1, [-40.0, -38.4, -36.7, -35.0, -33.4, -31.7, -30.0, -28.4, -26.7, -25.0, -23.4, -21.7, -20.0, -18.4, -16.9, -14.2, -12.6, -10.6]),
    (-30.0, [-42.2, -39.3, -37.7, -36.0, -34.3, -32.7, -31.0, -29.3, -27.7, -26.0, -24.3, -22.7, -21.0, -19.3, -17.7, -16.0, -13.4, -11.8, -10.1, -8.4]),
    (-30.9, [-38.8, -37.1, -35.5, -33.8, -32.1, -30.5, -28.8, -27.1, -25.5, -23.8, -22.1, -20.5, -18.8, -17.1, -15.5, -13.8, -12.1, -10.5, -8.8, -7.4]),
    (-31.8, [-41.2, -38.1, -36.4, -34.8, -33.1, -31.4, -29.8, -28.1, -26.4, -24.8, -23.1, -21.4, -19.8, -18.1, -16.4, -14.8, -13.1, -11.4, -9.8, -8.1]),
    (-32.7, [-37.5, -35.8, -34.2, -32.5, -30.8, -29.2, -27.5, -25.8, -24.2, -22.5, -20.8, -19.2, -17.5, -15.8, -14.2, -12.5, -10.8, -9.2, -7.5]),
    (-33.6, [-39.4, -36.8, -35.1, -33.5, -31.8, -30.1, -28.5, -26.8, -25.1, -23.5, -21.8, -20.1, -18.5, -16.8, -15.1, -13.5, -11.8, -10.1, -8.5, -6.9]),
    (-34.5, [-35.9, -34.3, -32.6, -30.9, -29.3, -27.6, -25.9, -24.3, -22.6, -20.9, -19.3, -17.6, -15.9, -14.3, -12.6, -10.9, -9.3, -7.6, -4.3]),
    (-35.4, [-35.2, -33.5, -31.9, -30.2, -28.5, -26.9, -25.2, -23.5, -21.9, -20.2, -18.5, -16.9, -15.2, -13.5, -11.9, -10.2, -8.5, -6.9]),
    (-36.3, [-36.8, -34.0, -32.3, -30.6, -27.9, -26.2, -24.6, -22.9, -21.2, -19.6, -17.9, -16.2, -14.6, -12.9, -11.2, -9.6, -7.9, -6.4]),
    (-37.2, [-35.7, -33.2, -31.5, -29.0, -27.0, -25.4, -23.0, -20.4, -18.7, -17.0, -15.4, -13.7, -12.0, -10.4, -8.7, -7.0]),
    (-38.1, [-34.2, -32.4, -30.1, -28.4, -26.6, -24.8, -19.6, -18.0, -16.3, -14.6, -13.0, -11.3, -9.6, -8.0]),
    (-39.0, [-33.8, -32.2, -29.4, -27.6, -25.7, -22.8, -18.8, -17.1, -15.5, -13.8, -12.1, -10.5, -8.8, -7.4]),
    (-39.9, [-19.4, -17.7, -16.0, -14.4, -12.7, -11.1, -9.6, -8.1]), (-40.7, [-25.4, -23.6, -20.2, -18.5, -16.9, -15.2, -13.5, -11.9, -10.2, -8.4]),
    (-41.6, [-19.0, -17.4, -15.7, -14.0, -12.4, -10.8, -9.1]), (-42.5, [-22.2, -19.8, -17.5, -15.9, -14.2, -12.6, -10.9]),
    (-43.2, [-17.0, -15.4, -13.8, -12.2]), (-43.9, [-14.7]),
    (-27.0, [-3.2, -2.0, -1.0, -0.2]), (-27.8, [-3.6, -2.3, -1.2, 0.1]), (-28.6, [-1.9, -0.9, 0.6]), (-29.4, [-1.8, -0.6, 0.8]), (-30.2, [-1.9, -0.9]),
]
punjabi_extra = [(-3.0, -21.4), (-3.0, -22.4), (-2.4, -22.8), (0.5, -21.3), (1.5, -22.0), (0.0, -22.0), (-4.5, -3.5), (52.8, 7.7), (-9.0, -18.0),
                 (-8.6, -17.6), (-15.0, 6.6), (-13.0, 6.6), (-14.0, 5.6), (-10.0, 4.6), (-9.0, 4.0), (-8.0, 3.4), (-7.5, 5.2), (-9.2, 2.6),
                 (-8.5, 1.0), (-16.8, 5.4), (-15.4, 6.0), (-19.4, 5.6), (-22.6, 3.4),
                 (-18.4, 0.9), (-14.7, -0.8), (-21.2, -1.6), (-17.1, -2.5), (-25.9, -3.3), (-12.8, -3.6), (-29.1, -4.4), (-20.7, -4.2),
                 (-15.9, -5.1), (-33.4, -6.0), (-24.4, -6.3), (-11.2, -6.2), (-18.2, -7.1), (-28.3, -7.9), (-36.1, -8.1), (-14.3, -8.0),
                 (-22.1, -9.0), (-31.7, -9.6), (-10.5, -9.0), (-17.7, -10.1), (-26.0, -10.7), (-34.8, -10.5), (-13.4, -11.4),
                 (-38.2, -11.6), (-21.0, -11.9), (-29.5, -12.4), (-16.6, -13.2), (-33.6, -13.3), (-24.1, -13.5), (-11.5, -13.9),
                 (-40.3, -14.4), (-19.2, -14.9), (-28.0, -15.0), (-36.7, -15.3), (-14.2, -15.8), (-31.2, -16.2), (-23.4, -16.5),
                 (-41.7, -17.1), (-17.3, -17.0), (-35.0, -17.9), (-27.1, -18.1), (-11.0, -17.8), (-20.6, -18.8), (-38.9, -19.0),
                 (-31.5, -19.5), (-15.2, -19.8), (-24.9, -20.1), (-42.4, -20.7), (-35.8, -20.9), (-18.7, -21.2), (-28.6, -21.5),
                 (-12.3, -21.4), (-39.1, -22.2), (-22.5, -22.4), (-32.3, -23.1), (-15.6, -23.2), (-25.9, -23.8), (-36.0, -24.1),
                 (-19.4, -24.2), (-41.1, -24.8), (-29.4, -25.2), (-12.9, -24.9), (-23.1, -25.8), (-33.9, -26.0), (-17.0, -26.3),
                 (-38.2, -26.7), (-26.7, -27.4), (-20.5, -27.9), (-31.2, -28.0), (-36.2, -28.8), (-15.2, -29.4), (-24.4, -29.2),
                 (-29.0, -30.0), (-18.6, -30.2), (-12.0, -30.4), (-34.4, -31.1), (-22.7, -31.2), (-8.9, -31.6), (-15.9, -32.0),
                 (-28.1, -32.6), (-11.6, -33.2), (-19.4, -33.1), (-33.5, -33.9), (-24.8, -33.8), (-7.8, -33.9), (-14.6, -34.6),
                 (-29.7, -35.1), (-21.0, -35.0), (-10.2, -35.4), (-17.1, -36.1), (-25.4, -36.8), (-13.1, -37.2), (-7.9, -37.6),
                 (-16.4, -38.9), (-11.0, -39.1), (-14.7, -40.8), (-9.6, -41.0), (-12.6, -42.2)]

languages = ['Bengali', 'Tamil', 'Telugu', 'Hindi', 'Malayalam', 'Urdu', 'Kannada', 'Marathi', 'Gujarati', 'Punjabi']
all_rows = [bengali_rows, tamil_rows, telugu_rows, hindi_rows, malayalam_rows, urdu_rows, kannada_rows, marathi_rows, gujarati_rows, punjabi_rows]
all_extra = [bengali_extra, tamil_extra, telugu_extra, hindi_extra, malayalam_extra, urdu_extra, kannada_extra, marathi_extra, gujarati_extra, punjabi_extra]

records = []
for lang, rows, extra in zip(languages, all_rows, all_extra):
    for y, xs in rows:
        for x in xs:
            records.append((x, y, lang))
    for x, y in extra:
        records.append((x, y, lang))
df = pd.DataFrame(records, columns=['x', 'y', 'Language'])

sns.set_theme(style='whitegrid', font_scale=1.2)
fig, ax = plt.subplots(figsize=(10, 8))
sns.scatterplot(data=df, x='x', y='y', hue='Language', hue_order=languages,
                palette=sns.color_palette('hls', 10), alpha=0.8, ax=ax)
ax.set_xlim(-66.5, 64.4)
ax.set_ylim(-62.7, 62.7)
ax.set_xticks(range(-60, 61, 20))
ax.set_yticks(range(-60, 61, 20))
ax.set_title('t-SNE Visualization of Language Embeddings')
ax.set_xlabel('Component 1')
ax.set_ylabel('Component 2')
ax.legend(title='Language', bbox_to_anchor=(1.05, 1), loc='upper left')
plt.tight_layout()
plt.savefig('out.png', dpi=300)
